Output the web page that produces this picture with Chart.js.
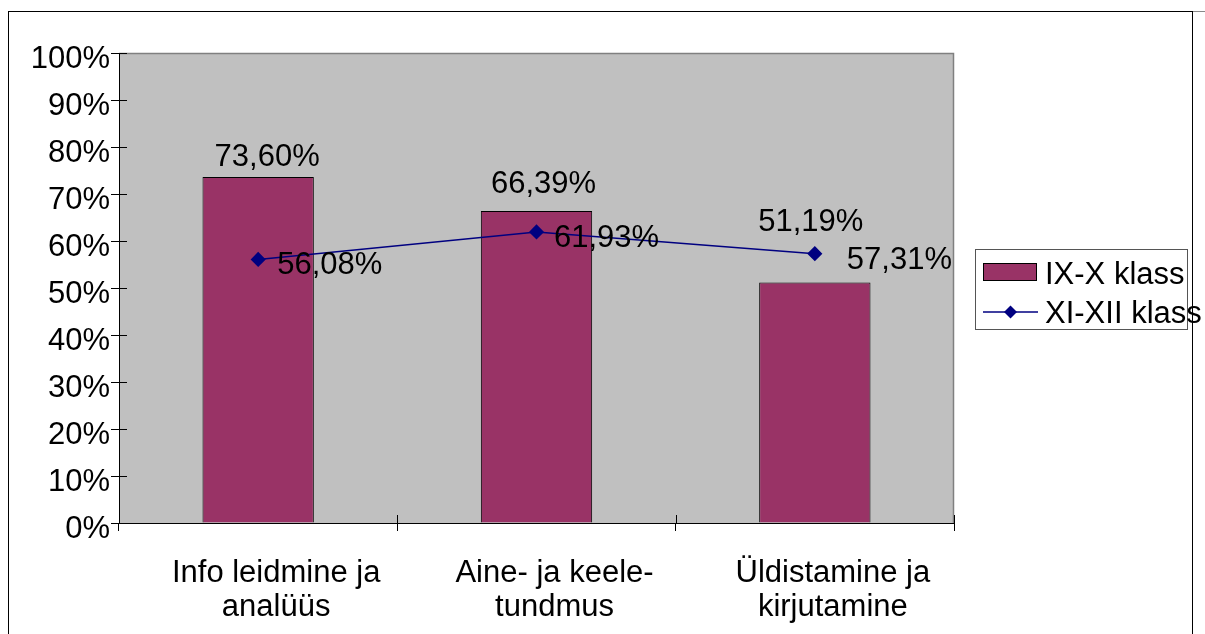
<!DOCTYPE html>
<html lang="et">
<head>
<meta charset="UTF-8">
<title>IX-X ja XI-XII klass</title>
<script src="https://cdn.jsdelivr.net/npm/chart.js"></script>
<style>
  html, body { margin: 0; padding: 0; background: #fff; }
  canvas { display: block; }
</style>
</head>
<body>
<canvas id="myChart" width="1205" height="634"></canvas>
<script>
// andmed
const categories = [
  ['Info leidmine ja', 'analüüs'],
  ['Aine- ja keele-', 'tundmus'],
  ['Üldistamine ja', 'kirjutamine']
];
const seriesNames = ['IX-X klass', 'XI-XII klass'];
const ixXValues = [73.60, 66.39, 51.19];
const xiXiiValues = [56.08, 61.93, 57.31];
const yMin = 0, yMax = 100, yStep = 10;

const FONT = '"Liberation Sans", Arial, sans-serif';
const BAR_COLOR = '#993366';
const LINE_COLOR = '#000080';

const fmt = v => v.toFixed(2).replace('.', ',') + '%';

// label offsets (Excel had them nudged by hand)
const barLabelOffsets = [[9, -20], [7, -26.5], [-4, -59.5]];
const lineLabelOffsets = [[19, 6], [17.5, 6.5], [32, 7]];

const excelLook = {
  id: 'excelLook',
  beforeDraw(chart) {
    const { ctx, chartArea: a } = chart;
    ctx.save();
    ctx.fillStyle = '#fff';
    ctx.fillRect(0, 0, chart.width, chart.height);
    // outer frame
    ctx.strokeStyle = '#000';
    ctx.lineWidth = 1;
    ctx.strokeRect(8.5, 11.5, 1184, 640);
    ctx.strokeStyle = '#888';
    ctx.beginPath();
    ctx.moveTo(1193, 11.5);
    ctx.lineTo(1205, 11.5);
    ctx.stroke();
    // plot area
    ctx.fillStyle = '#C0C0C0';
    ctx.fillRect(a.left, a.top, a.right - a.left, a.bottom - a.top);
    ctx.strokeStyle = '#808080';
    ctx.lineWidth = 1.5;
    ctx.beginPath();
    ctx.moveTo(a.left, a.top + 0.5);
    ctx.lineTo(a.right - 0.5, a.top + 0.5);
    ctx.lineTo(a.right - 0.5, a.bottom);
    ctx.stroke();
    ctx.restore();
  },
  afterDatasetsDraw(chart) {
    const { ctx, chartArea: a, scales: { x, y } } = chart;
    ctx.save();
    // inner halves of tick marks
    ctx.strokeStyle = '#000';
    ctx.lineWidth = 1;
    ctx.beginPath();
    y.ticks.forEach(t => {
      const py = Math.round(y.getPixelForValue(t.value)) + 0.5;
      ctx.moveTo(a.left, py);
      ctx.lineTo(a.left + 8, py);
    });
    const half = (x.getPixelForValue(1) - x.getPixelForValue(0)) / 2;
    for (let i = 0; i <= categories.length; i++) {
      const px = Math.round(x.getPixelForValue(0) - half + i * half * 2) + 0.5;
      ctx.moveTo(px, a.bottom);
      ctx.lineTo(px, a.bottom - 8);
    }
    ctx.stroke();

    // data labels
    ctx.font = '31px ' + FONT;
    ctx.fillStyle = '#000';
    ctx.textBaseline = 'middle';
    chart.getDatasetMeta(0).data.forEach((el, i) => {
      ctx.textAlign = 'center';
      ctx.fillText(fmt(ixXValues[i]), el.x + barLabelOffsets[i][0], el.y + barLabelOffsets[i][1]);
    });
    chart.getDatasetMeta(1).data.forEach((el, i) => {
      ctx.textAlign = 'left';
      ctx.fillText(fmt(xiXiiValues[i]), el.x + lineLabelOffsets[i][0], el.y + lineLabelOffsets[i][1]);
    });
    ctx.restore();
  },
  afterDraw(chart) {
    const { ctx } = chart;
    const ds = chart.data.datasets;
    ctx.save();
    // legend box
    ctx.strokeStyle = '#555';
    ctx.lineWidth = 1;
    ctx.strokeRect(975.5, 249.5, 212, 80);
    // bar entry
    ctx.fillStyle = ds[0].backgroundColor;
    ctx.fillRect(983, 263, 53, 17);
    ctx.strokeStyle = '#000';
    ctx.strokeRect(983.5, 263.5, 53, 17);
    // line entry
    ctx.strokeStyle = ds[1].borderColor;
    ctx.lineWidth = 1.5;
    ctx.beginPath();
    ctx.moveTo(983, 312);
    ctx.lineTo(1038, 312);
    ctx.stroke();
    ctx.fillStyle = ds[1].borderColor;
    ctx.beginPath();
    ctx.moveTo(1010.5, 305.5);
    ctx.lineTo(1017, 312);
    ctx.lineTo(1010.5, 318.5);
    ctx.lineTo(1004, 312);
    ctx.closePath();
    ctx.fill();
    // texts
    ctx.font = '31px ' + FONT;
    ctx.fillStyle = '#000';
    ctx.textAlign = 'left';
    ctx.textBaseline = 'middle';
    ctx.fillText(ds[0].label, 1045, 275.5);
    ctx.fillText(ds[1].label, 1045, 314);
    ctx.restore();
  }
};

const data = {
  labels: categories,
  datasets: [
    {
      type: 'bar',
      label: seriesNames[0],
      data: ixXValues,
      backgroundColor: BAR_COLOR,
      borderColor: '#000',
      borderWidth: 1,
      categoryPercentage: 1,
      barPercentage: 0.4,
      order: 2
    },
    {
      type: 'line',
      label: seriesNames[1],
      data: xiXiiValues,
      borderColor: LINE_COLOR,
      backgroundColor: LINE_COLOR,
      borderWidth: 1.5,
      pointStyle: 'rectRot',
      pointRadius: 6.5,
      pointBackgroundColor: LINE_COLOR,
      pointBorderColor: LINE_COLOR,
      tension: 0,
      order: 1
    }
  ]
};

const config = {
  data: data,
  options: {
    responsive: false,
    animation: false,
    layout: { padding: { top: 53, right: 251, bottom: 0, left: 0 } },
    plugins: {
      legend: { display: false },
      tooltip: { enabled: false }
    },
    scales: {
      x: {
        type: 'category',
        offset: true,
        grid: { offset: true, drawOnChartArea: false, drawTicks: true, tickLength: 8, color: '#000' },
        border: { display: true, color: '#000', width: 1 },
        ticks: {
          color: '#000',
          font: { family: FONT, size: 31, lineHeight: 1.1 },
          padding: 25,
          labelOffset: 18,
          maxRotation: 0,
          autoSkip: false
        },
        afterFit(scale) { scale.height = 111; }
      },
      y: {
        min: yMin,
        max: yMax,
        grid: { drawOnChartArea: false, drawTicks: true, tickLength: 8, color: '#000' },
        border: { display: true, color: '#000', width: 1 },
        ticks: {
          stepSize: yStep,
          color: '#000',
          font: { family: FONT, size: 31 },
          padding: 1,
          labelOffset: 6,
          callback: v => v + '%'
        },
        afterFit(scale) { scale.width = 119; }
      }
    }
  },
  plugins: [excelLook]
};

new Chart(document.getElementById('myChart').getContext('2d'), config);
</script>
</body>
</html>
